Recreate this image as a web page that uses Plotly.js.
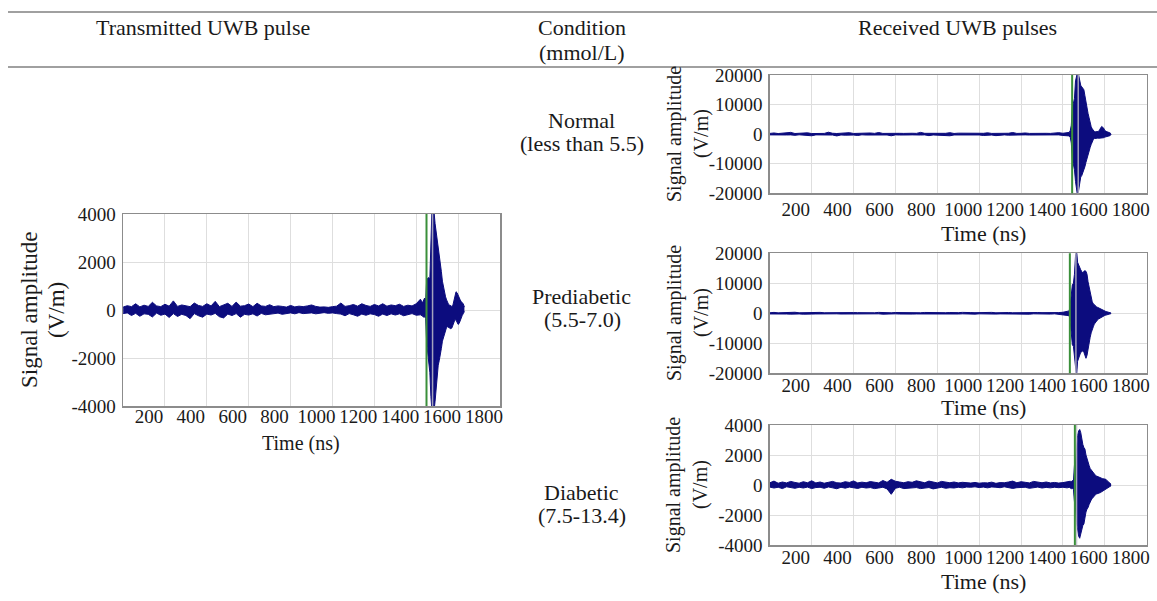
<!DOCTYPE html>
<html>
<head>
<meta charset="utf-8">
<script src="https://cdn.plot.ly/plotly-3.0.1.min.js"></script>
<style>
html,body{margin:0;padding:0;background:#fff;}
#chart{width:1157px;height:601px;}
</style>
</head>
<body>
<div id="chart"></div>
<script>
// ---------------- DATA ----------------
const tNoise = [0,20,40,60,80,100,120,140,160,180,200,220,
  240,260,280,300,320,340,360,380,400,420,440,460,
  480,500,520,540,560,580,600,620,640,660,680,700,
  720,740,760,780,800,820,840,860,880,900,920,940,
  960,980,1000,1020,1040,1060,1080,1100,1120,1140,1160,1180,
  1200,1220,1240,1260,1280,1300,1320,1340,1360,1380,1400,1420];
const tPulse = [1430,1435,1440,1445,1450,1455,1460,1465,1470,1475,
  1480,1485,1490,1495,1500,1505,1510,1515,1520,1525,
  1530,1535,1540,1545,1550,1555,1560,1565,1570,1575,
  1580,1585,1590,1595,1600,1605,1610,1615,1620,1625,
  1630];

// Transmitted pulse (envelope upper / lower, V/m)
const txNoiseUp = [120,180,140,260,130,200,150,320,170,140,240,160,
  380,150,210,170,140,290,190,150,260,170,360,140,
  200,280,150,330,160,180,250,140,280,170,150,220,
  140,170,150,120,190,130,160,140,170,210,150,120,
  130,110,140,160,290,150,180,230,160,260,190,150,
  230,170,260,160,210,180,240,150,200,170,260,450];
const txNoiseLo = [-150,-120,-230,-140,-260,-160,-180,-290,-130,-220,-170,-310,
  -150,-270,-180,-230,-360,-150,-240,-300,-170,-210,-140,-280,
  -330,-170,-230,-150,-300,-180,-210,-160,-250,-140,-200,-170,
  -150,-130,-180,-140,-120,-160,-110,-150,-130,-120,-160,-130,
  -110,-140,-120,-150,-170,-240,-150,-200,-260,-170,-220,-160,
  -190,-260,-170,-230,-160,-210,-160,-240,-180,-150,-220,-200];
const txPulseUp = [300,420,500,380,1300,1320,1350,1300,2600,4200,
  4200,4100,3600,3300,2900,2600,2300,2000,1600,1200,
  950,750,550,420,300,220,200,180,150,200,
  380,600,760,720,600,480,420,350,300,250,
  120];
const txPulseLo = [-250,-300,-280,-350,-1400,-1800,-2100,-2600,-3600,-4200,
  -4200,-4200,-3800,-3200,-2700,-2300,-2100,-1900,-1600,-1300,
  -1150,-1000,-850,-720,-700,-740,-760,-780,-750,-620,
  -480,-400,-420,-520,-600,-560,-420,-300,-220,-150,
  -60];

// Normal (less than 5.5)
const normNoiseUp = [250,400,200,300,250,600,220,300,280,450,200,300,
  350,250,650,300,220,350,260,500,230,300,280,250,
  400,260,550,250,300,220,450,280,250,350,300,260,
  600,280,250,350,220,300,280,500,230,330,280,250,
  350,220,300,280,450,250,280,350,220,300,550,250,
  280,400,250,300,220,450,280,250,350,500,300,600];
const normNoiseLo = [-250,-300,-220,-450,-280,-250,-400,-220,-300,-280,-550,-250,
  -280,-350,-250,-300,-600,-280,-350,-250,-300,-450,-220,-300,
  -280,-450,-250,-350,-280,-550,-250,-300,-400,-280,-250,-350,
  -300,-250,-500,-280,-350,-250,-300,-550,-280,-250,-350,-280,
  -250,-350,-280,-450,-250,-300,-500,-280,-250,-350,-280,-300,
  -350,-250,-300,-280,-500,-250,-350,-280,-300,-250,-450,-600];
const normPulseUp = [600,1200,3000,9000,10500,12000,18000,19500,21000,20000,
  17500,16500,16000,15500,15000,13000,10500,8500,7000,5500,
  3500,2500,1800,1200,900,800,850,800,900,1500,
  2200,2600,2300,2000,1200,900,800,700,600,400,
  100];
const normPulseLo = [-600,-1100,-3000,-8500,-10000,-12000,-16000,-18500,-21000,-19000,
  -15500,-14500,-14000,-13000,-12500,-11000,-9500,-8000,-7000,-6000,
  -4500,-3500,-2500,-1800,-1500,-1400,-1400,-1350,-1400,-1400,
  -1300,-1200,-1300,-1200,-1000,-900,-850,-800,-700,-500,
  -150];

// Prediabetic (5.5-7.0)
const preNoiseUp = [180,300,150,220,260,180,350,170,220,280,180,240,
  300,180,220,170,260,200,350,180,240,220,170,280,
  220,180,300,200,240,170,260,220,180,300,200,240,
  180,280,220,350,180,240,200,260,170,220,300,180,
  240,200,260,180,220,300,170,240,200,260,180,220,
  280,180,240,200,260,220,180,300,200,240,350,500];
const preNoiseLo = [-220,-180,-300,-180,-240,-280,-180,-220,-300,-180,-260,-220,
  -180,-300,-220,-260,-180,-240,-220,-300,-180,-260,-220,-180,
  -280,-220,-180,-300,-220,-260,-180,-240,-300,-200,-260,-220,
  -240,-180,-280,-220,-300,-180,-260,-220,-280,-240,-180,-260,
  -220,-280,-180,-240,-300,-220,-260,-200,-240,-220,-280,-180,
  -260,-220,-300,-180,-240,-280,-220,-260,-180,-300,-400,-500];
const prePulseUp = [800,3000,7000,9500,10000,13000,19000,21000,17000,16000,
  15500,14500,13900,13500,14000,14200,14000,13000,10500,8500,
  7000,5000,3800,3200,2800,2400,2200,2000,1800,1700,
  1400,1200,1100,900,700,600,500,450,350,250,
  100];
const prePulseLo = [-800,-3000,-8000,-10500,-11000,-14000,-19000,-21000,-16000,-15000,
  -14000,-13000,-12800,-12500,-13000,-14000,-15000,-14000,-11500,-9400,
  -8000,-6500,-5200,-4500,-3600,-3000,-2700,-2200,-1900,-1700,
  -1400,-1100,-900,-800,-700,-600,-500,-400,-350,-250,
  -100];

// Diabetic (7.5-13.4)
const diaNoiseUp = [150,260,120,200,140,240,170,120,220,150,280,140,
  200,120,180,240,150,130,220,170,270,140,190,150,
  230,170,140,300,180,380,250,200,150,220,180,280,
  220,150,260,190,140,240,180,150,200,140,180,150,
  130,170,120,150,140,190,110,160,150,200,260,150,
  220,180,140,240,190,150,200,140,170,130,160,200];
const diaNoiseLo = [-140,-200,-150,-240,-120,-180,-220,-150,-200,-140,-240,-170,
  -150,-220,-130,-190,-250,-150,-210,-140,-180,-230,-150,-200,
  -170,-240,-200,-150,-260,-620,-220,-150,-240,-230,-190,-170,
  -240,-200,-170,-260,-190,-150,-220,-180,-200,-150,-190,-140,
  -150,-120,-170,-140,-190,-130,-150,-180,-120,-160,-230,-180,
  -190,-150,-220,-180,-140,-200,-160,-190,-150,-180,-150,-190];
const diaPulseUp = [200,250,200,300,250,1300,1400,2500,3300,3600,
  3700,3500,2900,2700,2500,2400,2000,1700,1500,1300,
  1100,1000,900,800,700,650,600,560,520,500,
  480,450,420,400,420,380,300,250,200,120,
  50];
const diaPulseLo = [-150,-200,-250,-200,-300,-1100,-1500,-2500,-3000,-3400,
  -3550,-3200,-2900,-2700,-2600,-2000,-1800,-1600,-1500,-1300,
  -1100,-1000,-900,-800,-700,-650,-600,-580,-550,-550,
  -500,-450,-400,-350,-330,-300,-250,-200,-150,-100,
  -50];

// cursor markers (ns): transmitted, normal, prediabetic, diabetic
const cursorGreen = [1449, 1444, 1433, 1457];
const cursorGray  = [1478, 1473, 1462, 1465];

// tick labels
const xTickVals = [200,400,600,800,1000,1200,1400,1600,1800];
const xTickText = ['200','400','600','800','1000','1200','1400','1600','1800'];
const ySmallVals = [-4000,-2000,0,2000,4000];
const ySmallText = ['-4000','-2000','0','2000','4000'];
const yBigVals = [-20000,-10000,0,10000,20000];
const yBigText = ['-20000','-10000','0','10000','20000'];

const headers = ['Transmitted UWB pulse', 'Condition', '(mmol/L)', 'Received UWB pulses'];
const conditions = [['Normal','(less than 5.5)'], ['Prediabetic','(5.5-7.0)'], ['Diabetic','(7.5-13.4)']];

// ---------------- DRAW ----------------
const W = 1157, H = 601;
const FONT = "'Liberation Serif', 'Times New Roman', serif";
const NAVY = '#0c0c7e';
const TXT = '#1a1a1a';
const px = v => v / W;
const py = v => 1 - v / H;

const time = tNoise.concat(tPulse);
const series = [
  {up: txNoiseUp.concat(txPulseUp),     lo: txNoiseLo.concat(txPulseLo)},
  {up: normNoiseUp.concat(normPulseUp), lo: normNoiseLo.concat(normPulseLo)},
  {up: preNoiseUp.concat(prePulseUp),   lo: preNoiseLo.concat(prePulseLo)},
  {up: diaNoiseUp.concat(diaPulseUp),   lo: diaNoiseLo.concat(diaPulseLo)}
];
const axIds = ['', '2', '3', '4'];

const traces = [];
series.forEach((s, i) => {
  const xa = 'x' + axIds[i], ya = 'y' + axIds[i];
  traces.push({x: time, y: s.lo, xaxis: xa, yaxis: ya, mode: 'lines',
    line: {color: NAVY, width: 1}, showlegend: false, hoverinfo: 'skip'});
  traces.push({x: time, y: s.up, xaxis: xa, yaxis: ya, mode: 'lines', fill: 'tonexty',
    fillcolor: NAVY, line: {color: NAVY, width: 1}, showlegend: false, hoverinfo: 'skip'});
});

function xAxis(l, r, anchor, standoff) {
  return {domain: [px(l), px(r)], range: [0, 1801], anchor: anchor,
    showline: true, mirror: true, linecolor: '#8c8c8c', linewidth: 1.5,
    showgrid: true, gridcolor: '#dedede', gridwidth: 1, zeroline: false, ticks: '',
    tickmode: 'array', tickvals: xTickVals, ticktext: xTickText,
    ticklabelshift: -16, ticklabelstandoff: standoff,
    tickfont: {family: FONT, size: 19, color: TXT}, fixedrange: true};
}
function yAxis(top, bottom, anchor, big) {
  return {domain: [py(bottom), py(top)], range: big ? [-20000, 20000] : [-4000, 4000], anchor: anchor,
    showline: true, mirror: true, linecolor: '#8c8c8c', linewidth: 1.5,
    showgrid: true, gridcolor: '#dedede', gridwidth: 1, zeroline: false, ticks: '',
    tickmode: 'array', tickvals: big ? yBigVals : ySmallVals, ticktext: big ? yBigText : ySmallText,
    ticklabelstandoff: 2,
    tickfont: {family: FONT, size: 19, color: TXT}, fixedrange: true};
}

const layout = {
  width: W, height: H, margin: {l: 0, r: 0, t: 0, b: 0},
  paper_bgcolor: '#fff', plot_bgcolor: '#fff', showlegend: false,
  xaxis:  xAxis(123.1, 500.2, 'y', -7),
  yaxis:  yAxis(214, 406, 'x', false),
  xaxis2: xAxis(769.8, 1146.9, 'y2', -2),
  yaxis2: yAxis(75, 193.3, 'x2', true),
  xaxis3: xAxis(769.8, 1146.9, 'y3', -6),
  yaxis3: yAxis(253.3, 373.3, 'x3', true),
  xaxis4: xAxis(769.8, 1146.9, 'y4', -5),
  yaxis4: yAxis(425, 545, 'x4', false),
  shapes: [], annotations: []
};

// table rules
[12, 67].forEach(y => layout.shapes.push({type: 'line', xref: 'paper', yref: 'paper',
  x0: px(8), x1: 1, y0: py(y), y1: py(y), line: {color: '#808080', width: 1.5}}));

// cursor lines
axIds.forEach((id, i) => {
  layout.shapes.push({type: 'line', xref: 'x' + id, yref: 'y' + id + ' domain', layer: 'above',
    x0: cursorGray[i], x1: cursorGray[i], y0: 0, y1: 1, line: {color: 'rgba(190,190,200,0.85)', width: 1.5}});
  layout.shapes.push({type: 'line', xref: 'x' + id, yref: 'y' + id + ' domain', layer: 'above',
    x0: cursorGreen[i], x1: cursorGreen[i], y0: 0, y1: 1, line: {color: '#3a8f3a', width: 2}});
});

function ann(text, x, y, size, angle) {
  layout.annotations.push({text: text, xref: 'paper', yref: 'paper', x: px(x), y: py(y),
    xanchor: 'center', yanchor: 'middle', showarrow: false, textangle: angle || 0,
    font: {family: FONT, size: size, color: TXT}});
}
// headers
ann(headers[0], 203, 28, 22);
ann(headers[1], 582, 28, 22);
ann(headers[2], 582, 52, 22);
ann(headers[3], 957, 28, 22);
// conditions
const condY = [[120, 143], [296, 319], [492, 515]];
conditions.forEach((c, i) => { ann(c[0], 581, condY[i][0], 22); ann(c[1], 582, condY[i][1], 22); });
// axis titles
ann('Time (ns)', 301, 443, 20);
[233, 407, 581].forEach(y => ann('Time (ns)', 983, y, 22));
ann('Signal amplitude', 29, 310, 23, -90);
ann('(V/m)', 56, 310, 23, -90);
[134, 313, 485].forEach(y => { ann('Signal amplitude', 674, y, 20, -90); ann('(V/m)', 701, y, 20, -90); });

Plotly.newPlot('chart', traces, layout, {staticPlot: true, displayModeBar: false});
</script>
</body>
</html>
